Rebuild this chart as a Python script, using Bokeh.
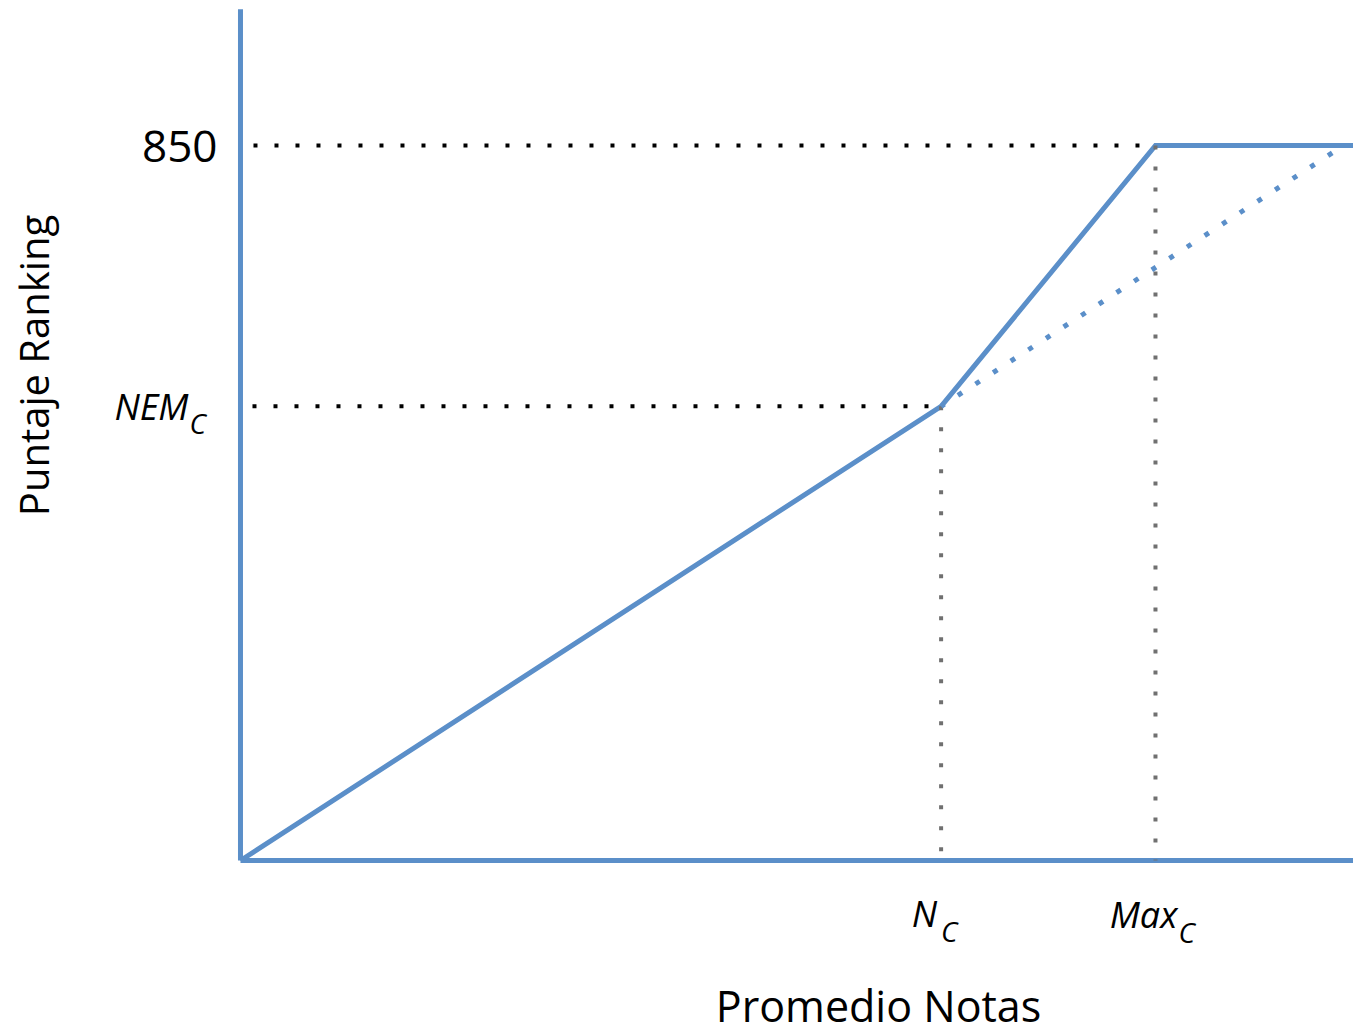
import math
from bokeh.plotting import figure
from bokeh.models import Label, Range1d
from bokeh.embed import file_html
from bokeh.resources import INLINE

# ---- data (abstract units) ----
x_title = "Promedio Notas"
y_title = "Puntaje Ranking"
puntaje_max = 850          # top score
nem_c = 540                # NEM_C score
n_c = 5.36                 # N_C grade
max_c = 7.0                # Max_C grade
x_end = 8.6                # where the curve / x axis run off the page
y_top = 1012               # top of the drawn y axis
ext_x = 8.44               # where the dotted extension reaches 850

curve_x = [0, n_c, max_c, x_end]
curve_y = [0, nem_c, puntaje_max, puntaje_max]
ext_line_x = [n_c, ext_x]
ext_line_y = [nem_c, puntaje_max]

BLUE = "#5b8fc9"
GRAY = "#707070"
FONT = "Open Sans"

W, H = 1353, 1034
p = figure(width=W, height=H, output_backend="svg", toolbar_location=None,
           x_range=Range1d(-1.836, 8.515), y_range=Range1d(-206.85, 1022.4),
           x_axis_location=None, y_axis_location=None, min_border=0,
           outline_line_color=None, background_fill_color="white",
           border_fill_color="white")
p.grid.visible = False

# axes lines
p.line([0, 0], [0, y_top], line_color=BLUE, line_width=5)
p.line([0, x_end], [0, 0], line_color=BLUE, line_width=5)
# main curve
p.line(curve_x, curve_y, line_color=BLUE, line_width=5, line_join="miter")

# dotted guides
p.line([0, max_c], [puntaje_max, puntaje_max], line_color="black", line_width=4,
       line_dash="4 17", line_dash_offset=8, line_cap="butt")
p.line([0, n_c], [nem_c, nem_c], line_color="black", line_width=4,
       line_dash="4 17", line_dash_offset=9, line_cap="butt")
p.line([n_c, n_c], [nem_c, 0], line_color=GRAY, line_width=4,
       line_dash="4 17", line_cap="butt")
p.line([max_c, max_c], [puntaje_max, 0], line_color=GRAY, line_width=4,
       line_dash="4 17", line_cap="butt")
p.line(ext_line_x, ext_line_y, line_color=BLUE, line_width=5,
       line_dash="5 16", line_dash_offset=1, line_cap="butt")

# tick-like labels
def lab(x, y, text, size, xo, yo, align, style="normal"):
    p.add_layout(Label(x=x, y=y, text=text, x_offset=xo, y_offset=yo,
                       text_align=align, text_baseline="middle",
                       text_font=FONT, text_font_size=f"{size}px",
                       text_font_style=style, text_color="black"))

lab(0, puntaje_max, "850", 44, -23, -1, "right")
lab(0, nem_c, "NEM", 36, -52, 0, "right", style="italic")
lab(0, nem_c, "C", 28, -51, -17, "left", style="italic")
lab(n_c, 0, "N", 36, -4, -53, "right", style="italic")
lab(n_c, 0, "C", 28, 0, -70, "left", style="italic")
lab(max_c, 0, "Max", 36, 22, -54, "right", style="italic")
lab(max_c, 0, "C", 28, 23, -71, "left", style="italic")

# axis titles (screen units)
p.add_layout(Label(x=878, y=29, x_units="screen", y_units="screen", text=x_title,
                   text_align="center", text_baseline="middle",
                   text_font=FONT, text_font_size="43px", text_color="black"))
p.add_layout(Label(x=33, y=669, x_units="screen", y_units="screen", text=y_title,
                   angle=math.pi / 2, text_align="center", text_baseline="middle",
                   text_font=FONT, text_font_size="40px", text_color="black"))

open("out.html", "w").write(file_html(p, INLINE))
